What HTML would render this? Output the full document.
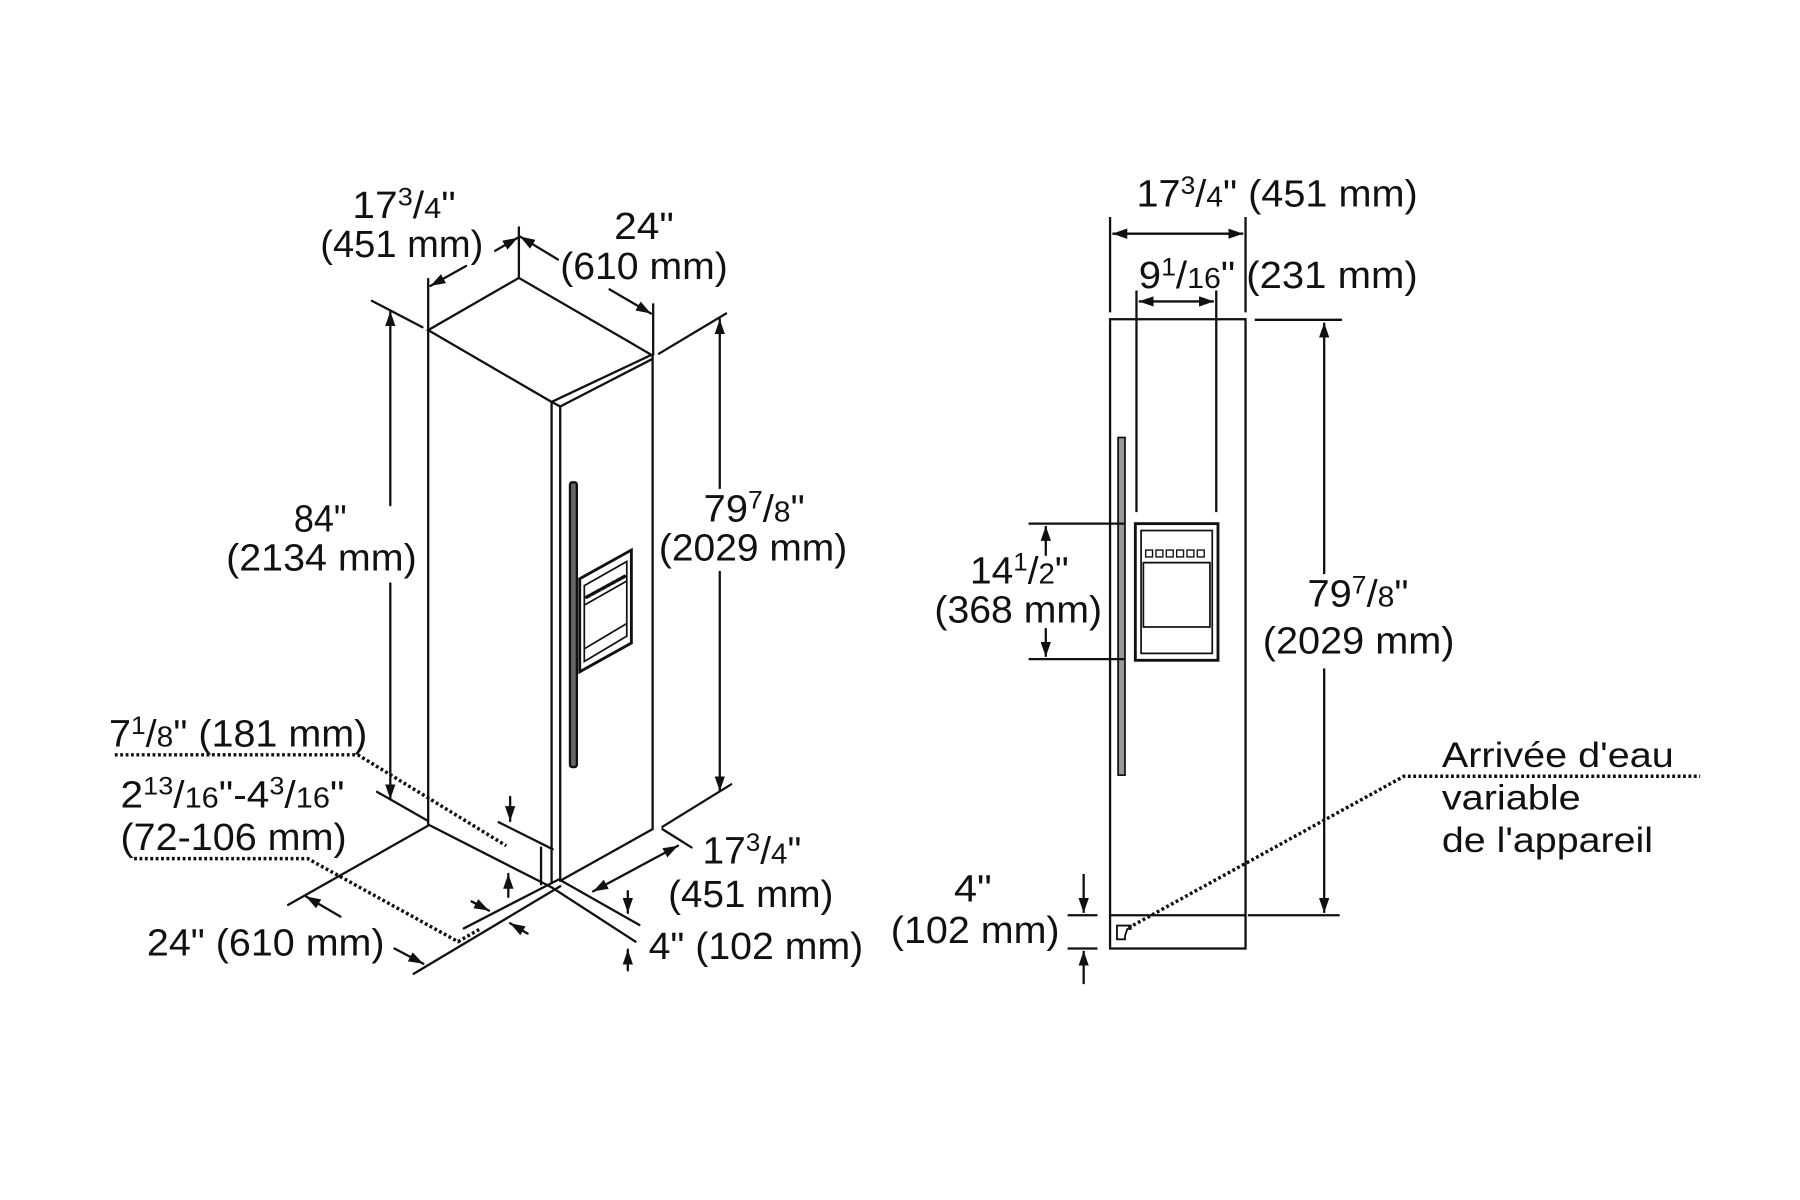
<!DOCTYPE html>
<html><head><meta charset="utf-8"><style>
html,body{margin:0;padding:0;background:#fff;}
svg{display:block;}
text{font-family:"Liberation Sans",Arial,sans-serif;fill:#111;}
</style></head><body>
<svg width="1800" height="1200" viewBox="0 0 1568 1045" preserveAspectRatio="none" xmlns="http://www.w3.org/2000/svg">
<defs>
<marker id="a" markerWidth="13" markerHeight="9" refX="13" refY="4.5" orient="auto" markerUnits="userSpaceOnUse"><path d="M0,0 L13,4.5 L0,9 z" fill="#111"/></marker>
<marker id="b" markerWidth="13" markerHeight="9" refX="0" refY="4.5" orient="auto" markerUnits="userSpaceOnUse"><path d="M13,0 L0,4.5 L13,9 z" fill="#111"/></marker>
</defs>
<rect width="1568" height="1045" fill="#fff"/>
<g stroke="#111" stroke-width="2" fill="none" stroke-linecap="round">
<polygon points="373,287.5 452,242 567.5,309 480.5,350"/>
<line x1="488" y1="354" x2="567.5" y2="313"/>
<line x1="480.5" y1="350" x2="488" y2="354"/>
<line x1="373" y1="287.5" x2="373" y2="718"/>
<line x1="480.5" y1="350" x2="480.5" y2="768"/>
<line x1="488" y1="354" x2="488" y2="767"/>
<line x1="568.5" y1="309" x2="568.5" y2="722"/>
<line x1="488" y1="767" x2="568.5" y2="722"/>
<line x1="373" y1="718" x2="481" y2="773"/>
<line x1="481" y1="773" x2="553.6" y2="820"/>
<line x1="489.8" y1="767.4" x2="557" y2="805.5"/>
<line x1="373" y1="719" x2="251" y2="788"/>
<line x1="486.4" y1="766" x2="404" y2="808.5"/>
<line x1="488" y1="771.8" x2="360.4" y2="848"/>
<line x1="434.4" y1="716" x2="481.4" y2="739.5"/>
<line x1="471.3" y1="738" x2="471.3" y2="770"/>
<rect x="496.5" y="420" width="6" height="248" rx="2" fill="#666"/>
<polygon points="505,504 550,479 550,560 505,585" stroke-width="2.5"/>
<polygon points="509,510 546,489 546,554 509,576" stroke-width="1.5"/>
<line x1="509" y1="527" x2="546" y2="506" stroke-width="1.5"/>
<line x1="509" y1="565" x2="546" y2="543" stroke-width="1.5"/>
<line x1="511" y1="520" x2="544" y2="502" stroke-width="3" stroke-dasharray="3 2"/>
<line x1="373" y1="243" x2="373" y2="287"/>
<line x1="452" y1="198" x2="452" y2="242"/>
<line x1="569" y1="265" x2="569" y2="309"/>
<line x1="324" y1="262" x2="368" y2="285"/>
<line x1="574" y1="308" x2="632.5" y2="273"/>
<line x1="577" y1="720" x2="637" y2="683"/>
<line x1="328.5" y1="689.6" x2="372.2" y2="714.5"/>
<line x1="577" y1="722" x2="602.4" y2="738"/>
<line x1="406" y1="231.6" x2="375" y2="249" marker-end="url(#a)"/>
<line x1="431.4" y1="218.4" x2="451" y2="207" marker-end="url(#a)"/>
<line x1="486" y1="226" x2="453" y2="206" marker-end="url(#a)"/>
<line x1="531" y1="252" x2="567" y2="273" marker-end="url(#a)"/>
<line x1="340" y1="440" x2="340" y2="271" marker-end="url(#a)"/>
<line x1="340" y1="508" x2="340" y2="696" marker-end="url(#a)"/>
<line x1="627" y1="425" x2="627" y2="278" marker-end="url(#a)"/>
<line x1="627" y1="498" x2="627" y2="689" marker-end="url(#a)"/>
<line x1="444.4" y1="694" x2="444.4" y2="715" marker-end="url(#a)"/>
<line x1="442.8" y1="781" x2="442.8" y2="761" marker-end="url(#a)"/>
<line x1="410.8" y1="785" x2="426" y2="793" marker-end="url(#a)"/>
<line x1="459.6" y1="813" x2="444.4" y2="804" marker-end="url(#a)"/>
<line x1="296.6" y1="798.2" x2="266.4" y2="780.6" marker-end="url(#a)"/>
<line x1="343.6" y1="826" x2="368.8" y2="839.3" marker-end="url(#a)"/>
<line x1="516.7" y1="776.2" x2="590.6" y2="736.5" marker-start="url(#b)" marker-end="url(#a)"/>
<line x1="546.9" y1="776" x2="546.9" y2="795" marker-end="url(#a)"/>
<line x1="546.9" y1="845" x2="546.9" y2="827" marker-end="url(#a)"/>
</g>
<g stroke="#111" stroke-width="3" fill="none" stroke-dasharray="2.5 2.2">
<polyline points="100,657.3 311.7,657.3 441,736.5"/>
<polyline points="116.8,747.7 268,747.7 399,820 419,808.5"/>
<polyline points="983,808 1223,676 1481,676"/>
</g>
<g stroke="#111" stroke-width="2" fill="none">
<rect x="967" y="278" width="118" height="548"/>
<line x1="967" y1="797" x2="1085" y2="797"/>
<line x1="1087" y1="797" x2="1167" y2="797"/>
<rect x="974" y="381" width="6" height="294" fill="#999" stroke-width="1.5"/>
<rect x="989" y="456" width="72" height="119" stroke-width="2.5"/>
<rect x="994" y="462" width="62" height="107" stroke-width="1.5"/>
<line x1="996" y1="490" x2="1054" y2="490" stroke-width="1.5"/>
<rect x="996" y="490" width="58" height="56" stroke-width="1.5"/>
<g stroke-width="1.2">
<rect x="998" y="479" width="6" height="6"/><rect x="1007" y="479" width="6" height="6"/><rect x="1016" y="479" width="6" height="6"/><rect x="1025" y="479" width="6" height="6"/><rect x="1034" y="479" width="6" height="6"/><rect x="1043" y="479" width="6" height="6"/>
</g>
<path d="M973,806 h12 v3 h-3 l-2,6 v3 h-7 z" stroke-width="1.6"/>
<line x1="967" y1="189" x2="967" y2="272"/>
<line x1="1085" y1="189" x2="1085" y2="272"/>
<line x1="990" y1="253" x2="990" y2="446"/>
<line x1="1059.5" y1="253" x2="1059.5" y2="446"/>
<line x1="969" y1="203.5" x2="1083" y2="203.5" marker-start="url(#b)" marker-end="url(#a)"/>
<line x1="992" y1="262.5" x2="1057.5" y2="262.5" marker-start="url(#b)" marker-end="url(#a)"/>
<line x1="1093" y1="278.5" x2="1169" y2="278.5"/>
<line x1="1153.5" y1="500" x2="1153.5" y2="281" marker-end="url(#a)"/>
<line x1="1153.5" y1="582" x2="1153.5" y2="795" marker-end="url(#a)"/>
<line x1="896" y1="456" x2="980" y2="456"/>
<line x1="896" y1="574" x2="980" y2="574"/>
<line x1="911" y1="484" x2="911" y2="458" marker-end="url(#a)"/>
<line x1="911" y1="547" x2="911" y2="572" marker-end="url(#a)"/>
<line x1="930" y1="797" x2="956" y2="797"/>
<line x1="930" y1="826" x2="956" y2="826"/>
<line x1="944" y1="761" x2="944" y2="795" marker-end="url(#a)"/>
<line x1="944" y1="857" x2="944" y2="828" marker-end="url(#a)"/>
</g>
<g font-size="33">
<text x="307" y="190" textLength="90" lengthAdjust="spacingAndGlyphs">17<tspan font-size="22" dy="-11">3</tspan><tspan dy="11">/</tspan><tspan font-size="25">4</tspan>"</text>
<text x="279" y="224" textLength="142" lengthAdjust="spacingAndGlyphs">(451 mm)</text>
<text x="535" y="208" textLength="52" lengthAdjust="spacingAndGlyphs">24"</text>
<text x="488" y="243" textLength="146" lengthAdjust="spacingAndGlyphs">(610 mm)</text>
<text x="256" y="463" textLength="46" lengthAdjust="spacingAndGlyphs">84"</text>
<text x="197" y="497" textLength="166" lengthAdjust="spacingAndGlyphs">(2134 mm)</text>
<text x="613" y="454" textLength="88" lengthAdjust="spacingAndGlyphs">79<tspan font-size="22" dy="-11">7</tspan><tspan dy="11">/</tspan><tspan font-size="25">8</tspan>"</text>
<text x="574" y="488" textLength="164" lengthAdjust="spacingAndGlyphs">(2029 mm)</text>
<text x="95" y="650" textLength="225" lengthAdjust="spacingAndGlyphs">7<tspan font-size="22" dy="-11">1</tspan><tspan dy="11">/</tspan><tspan font-size="25">8</tspan>" (181 mm)</text>
<text x="105" y="703" textLength="195" lengthAdjust="spacingAndGlyphs">2<tspan font-size="22" dy="-11">13</tspan><tspan dy="11">/</tspan><tspan font-size="25">16</tspan>"-4<tspan font-size="22" dy="-11">3</tspan><tspan dy="11">/</tspan><tspan font-size="25">16</tspan>"</text>
<text x="105" y="740" textLength="197" lengthAdjust="spacingAndGlyphs">(72-106 mm)</text>
<text x="128" y="832" textLength="207" lengthAdjust="spacingAndGlyphs">24" (610 mm)</text>
<text x="612" y="752" textLength="86" lengthAdjust="spacingAndGlyphs">17<tspan font-size="22" dy="-11">3</tspan><tspan dy="11">/</tspan><tspan font-size="25">4</tspan>"</text>
<text x="582" y="790" textLength="144" lengthAdjust="spacingAndGlyphs">(451 mm)</text>
<text x="565" y="835" textLength="187" lengthAdjust="spacingAndGlyphs">4" (102 mm)</text>
<text x="990" y="180" textLength="245" lengthAdjust="spacingAndGlyphs">17<tspan font-size="22" dy="-11">3</tspan><tspan dy="11">/</tspan><tspan font-size="25">4</tspan>" (451 mm)</text>
<text x="992" y="251" textLength="243" lengthAdjust="spacingAndGlyphs">9<tspan font-size="22" dy="-11">1</tspan><tspan dy="11">/</tspan><tspan font-size="25">16</tspan>" (231 mm)</text>
<text x="845" y="508" textLength="86" lengthAdjust="spacingAndGlyphs">14<tspan font-size="22" dy="-11">1</tspan><tspan dy="11">/</tspan><tspan font-size="25">2</tspan>"</text>
<text x="814" y="542" textLength="146" lengthAdjust="spacingAndGlyphs">(368 mm)</text>
<text x="1139" y="528" textLength="88" lengthAdjust="spacingAndGlyphs">79<tspan font-size="22" dy="-11">7</tspan><tspan dy="11">/</tspan><tspan font-size="25">8</tspan>"</text>
<text x="1100" y="569" textLength="167" lengthAdjust="spacingAndGlyphs">(2029 mm)</text>
<text x="831" y="785" textLength="33" lengthAdjust="spacingAndGlyphs">4"</text>
<text x="776" y="821" textLength="147" lengthAdjust="spacingAndGlyphs">(102 mm)</text>
</g>
<g font-size="31">
<text x="1256" y="668" textLength="202" lengthAdjust="spacingAndGlyphs">Arrivée d'eau</text>
<text x="1256" y="705" textLength="121" lengthAdjust="spacingAndGlyphs">variable</text>
<text x="1256" y="742" textLength="184" lengthAdjust="spacingAndGlyphs">de l'appareil</text>
</g>
</svg>
</body></html>
